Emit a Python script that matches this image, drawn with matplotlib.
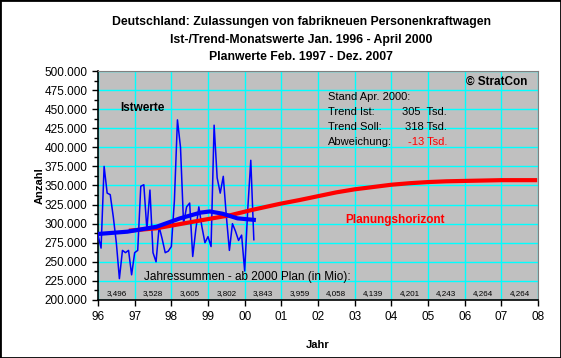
import matplotlib
matplotlib.use("Agg")
import matplotlib.pyplot as plt
import numpy as np
from matplotlib.ticker import FuncFormatter, MultipleLocator
from matplotlib.patches import Rectangle

# ---- data ----
# monthly actual registrations Jan 1996 - Apr 2000 (thousands)
ist_values = [285, 268, 375, 340, 338, 309, 275, 228, 265, 262, 265, 233,
              262, 265, 349, 351, 292, 344, 262, 250, 296, 280, 262, 264,
              270, 330, 436, 400, 300, 322, 327, 257, 292, 322, 296, 275,
              283, 270, 429, 360, 340, 362, 310, 265, 300, 290, 278, 285,
              238, 318, 383, 279]
ist_start_year = 1996.0

trend_ist_x = [1996.0, 1996.8, 1997.6, 1998.24, 1998.8, 1999.05, 1999.4, 1999.8, 2000.25]
trend_ist_y = [286.5, 289.5, 296, 307, 314.5, 316, 313, 307, 305]

soll_x = [1996.9, 1997.6, 1998.3, 1999.0, 1999.6, 2000.2, 2000.96, 2001.5, 2002.0, 2002.5,
          2003.0, 2003.5, 2004.0, 2004.5, 2005.0, 2005.5, 2006.0, 2006.5, 2007.0, 2007.92]
soll_y = [291, 294, 300, 306, 311, 318, 326, 331, 336, 341,
          345, 348, 351, 353, 354.5, 355.5, 356, 356.5, 357, 357]

years = list(range(1996, 2008))
year_sums = ["3,496", "3,528", "3,605", "3,802", "3,843", "3,959", "4,058",
             "4,139", "4,201", "4,243", "4,264", "4,264"]
xtick_labels = ["96", "97", "98", "99", "00", "01", "02", "03", "04", "05", "06", "07", "08"]

title_lines = ["Deutschland: Zulassungen von fabrikneuen Personenkraftwagen",
               "Ist-/Trend-Monatswerte Jan. 1996 - April 2000",
               "Planwerte Feb. 1997 - Dez. 2007"]

FONT = ['Liberation Sans', 'DejaVu Sans']
plt.rcParams['font.family'] = FONT

fig = plt.figure(figsize=(5.61, 3.58), dpi=100)
fig.patch.set_facecolor('white')
fig.patches.append(Rectangle((0, 0), 1, 1, transform=fig.transFigure, fill=False,
                             edgecolor='black', linewidth=2, zorder=10))

ax = fig.add_axes([98/561, 1-300/358, 440/561, 229/358])
ax.set_facecolor('#C0C0C0')

ist_x = [ist_start_year + i/12 for i in range(len(ist_values))]
ax.plot(ist_x, np.array(ist_values)*1000, color='#0000FF', lw=1.1, zorder=3)
ax.plot(soll_x, np.array(soll_y)*1000, color='#FF0000', lw=3, zorder=4)
ax.plot(trend_ist_x, np.array(trend_ist_y)*1000, color='#0000FF', lw=3, zorder=5)

ax.set_xlim(1996, 2008)
ax.set_ylim(200000, 500000)
ax.set_xticks(range(1996, 2009))
ax.set_xticklabels(xtick_labels)
ax.yaxis.set_major_locator(MultipleLocator(25000))
ax.yaxis.set_minor_locator(MultipleLocator(12500))
ax.yaxis.set_major_formatter(FuncFormatter(lambda v, p: f"{int(v):,}".replace(",", ".")))
ax.grid(True, which='major', color='#00FFFF', lw=1, zorder=1)
ax.set_axisbelow(True)
ax.tick_params(axis='both', which='major', direction='out', length=4, width=1, labelsize=8.5, color='black')
ax.tick_params(axis='y', which='minor', direction='out', length=3, width=1)
ax.tick_params(axis='x', pad=4)
for s in ['top', 'right']:
    ax.spines[s].set_color('#808080')
for s in ['left', 'bottom']:
    ax.spines[s].set_color('black')
    ax.spines[s].set_linewidth(1.2)

ax.set_ylabel("Anzahl", fontsize=8, fontweight='bold', labelpad=0)
ax.set_xlabel("Jahr", fontsize=8, fontweight='bold', labelpad=12)

# year sums
for y, s in zip(years, year_sums):
    ax.text(y + 0.5, 209000, s, fontsize=5.8, ha='center', va='center', zorder=6)
ax.text(1997.25, 230000, "Jahressummen - ab 2000 Plan (in Mio):", fontsize=8.5,
        ha='left', va='center', zorder=6)

ax.text(1996.6, 451000, "Istwerte", fontsize=8.5, fontweight='bold', ha='left', va='center')
ax.text(2002.74, 304500, "Planungshorizont", fontsize=8.5, fontweight='bold', color='#FF0000',
        ha='left', va='center')
ax.text(2007.7, 485500, "\u00a9 StratCon", fontsize=8.5, fontweight='bold', ha='right', va='center')

xl, xr = 2002.26, 2005.52
ax.text(xl, 466000, "Stand Apr. 2000:", fontsize=8, ha='left', va='center')
ax.text(xl, 446500, "Trend Ist:", fontsize=8, ha='left', va='center')
ax.text(xr, 446500, "305  Tsd.", fontsize=8, ha='right', va='center')
ax.text(xl, 426800, "Trend Soll:", fontsize=8, ha='left', va='center')
ax.text(xr, 426800, "318 Tsd.", fontsize=8, ha='right', va='center')
ax.text(xl, 407000, "Abweichung:", fontsize=8, ha='left', va='center')
ax.text(xr, 407000, "-13 Tsd.", fontsize=8, ha='right', va='center', color='#FF0000')

for i, line in enumerate(title_lines):
    fig.text(301/561, 1 - (22 + 17.5*i)/358, line, fontsize=8.8, fontweight='bold',
             ha='center', va='center')

fig.savefig("out.png", dpi=100)
